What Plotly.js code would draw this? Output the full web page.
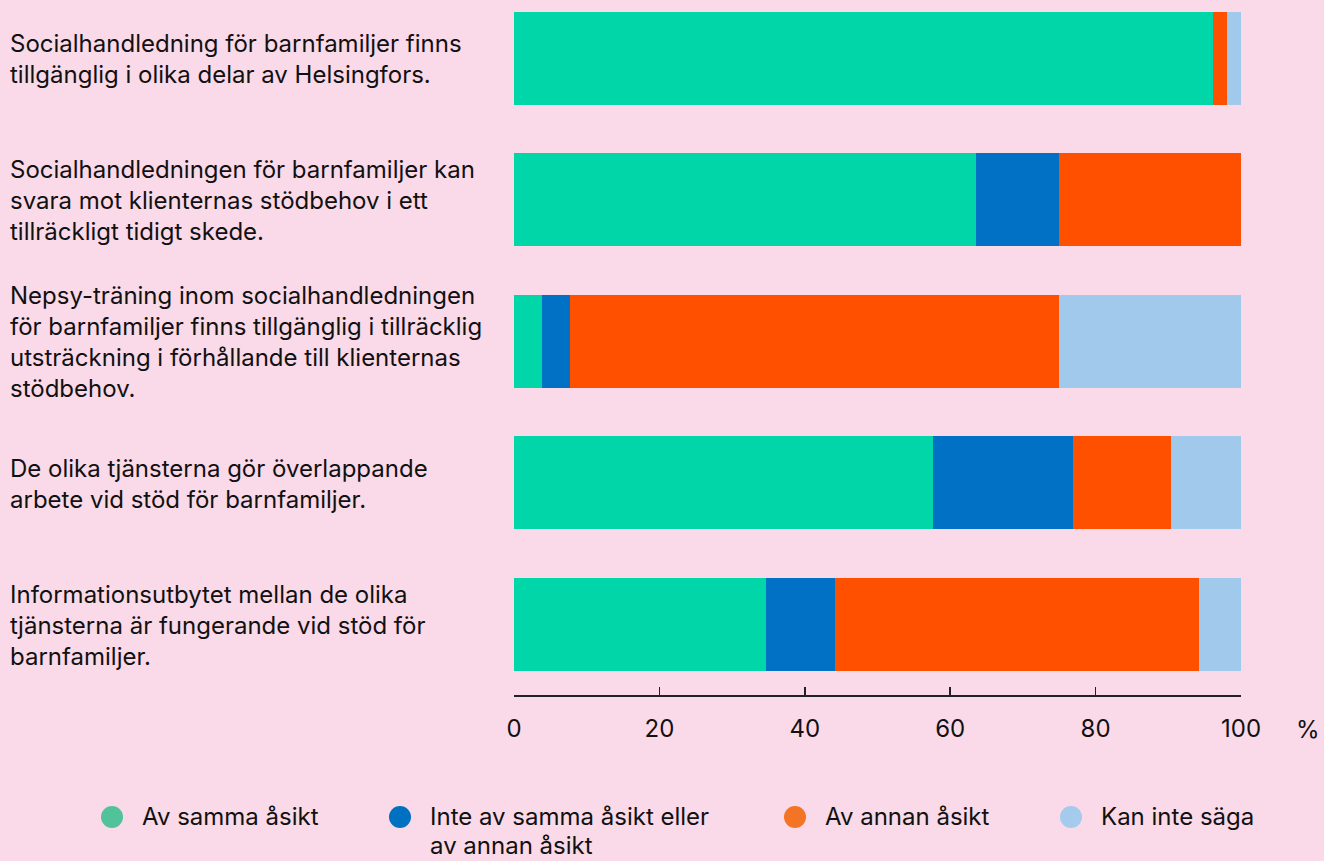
<!DOCTYPE html>
<html>
<head>
<meta charset="utf-8">
<script src="https://cdn.plot.ly/plotly-3.0.1.min.js"></script>
<style>
html,body{margin:0;padding:0;background:#fad9e8;}
#chart{width:1324px;height:861px;}
</style>
</head>
<body>
<div id="chart"></div>
<script>
// ---- data ----
const categories = [
  "Socialhandledning för barnfamiljer finns<br>tillgänglig i olika delar av Helsingfors.",
  "Socialhandledningen för barnfamiljer kan<br>svara mot klienternas stödbehov i ett<br>tillräckligt tidigt skede.",
  "Nepsy-träning inom socialhandledningen<br>för barnfamiljer finns tillgänglig i tillräcklig<br>utsträckning i förhållande till klienternas<br>stödbehov.",
  "De olika tjänsterna gör överlappande<br>arbete vid stöd för barnfamiljer.",
  "Informationsutbytet mellan de olika<br>tjänsterna är fungerande vid stöd för<br>barnfamiljer."
];
const seriesNames = ["Av samma åsikt", "Inte av samma åsikt eller<br>av annan åsikt", "Av annan åsikt", "Kan inte säga"];
const avSamma   = [96.2, 63.5, 3.85, 57.7, 34.6];
const inteAv    = [0.0, 11.5, 3.85, 19.2, 9.6];
const avAnnan   = [1.9, 25.0, 67.3, 13.5, 50.0];
const kanInte   = [1.9, 0.0, 25.0, 9.6, 5.8];
const xTicks = [0, 20, 40, 60, 80, 100];
const unitLabel = "%";

// ---- style ----
const barColors = ["#00d6a7", "#0071c5", "#ff5000", "#a0c9eb"];
const legendColors = ["#52c29b", "#0070c0", "#f47426", "#a4cbec"];
const FONT = "Inter, 'Noto Sans', sans-serif";
const textColor = "#111111";
const FS = 24;

const W = 1324, H = 861;
const mL = 514, mR = 83, mT = 0, mB = 166;
const plotW = W - mL - mR, plotH = H - mT - mB;
const px2x = p => (p - mL) / plotW;
const py2y = p => (H - mB - p) / plotH;

const values = [avSamma, inteAv, avAnnan, kanInte];
const yIdx = categories.map((c, i) => i);

const traces = values.map((v, k) => ({
  type: "bar",
  orientation: "h",
  x: v,
  y: yIdx,
  name: seriesNames[k],
  marker: {color: barColors[k], line: {width: 0}},
  width: 0.66,
  hoverinfo: "x+name",
  showlegend: false
}));

const annotations = [];
const lineH = 31;
categories.forEach((c, i) => {
  const lines = c.split("<br>");
  const n = lines.length;
  lines.forEach((ln, j) => {
    annotations.push({
      xref: "paper", yref: "y",
      x: px2x(8), y: i,
      xanchor: "left", yanchor: "middle",
      yshift: ((n - 1) / 2 - j) * lineH - 1,
      text: ln, showarrow: false, align: "left",
      font: {family: FONT, size: FS, color: textColor}
    });
  });
});
annotations.push({
  xref: "paper", yref: "paper",
  x: px2x(1308), y: py2y(729),
  xanchor: "center", yanchor: "middle",
  text: unitLabel, showarrow: false,
  font: {family: FONT, size: FS, color: textColor}
});

// legend (manual)
const legMarkerX = [112, 400, 795, 1071];
const legY = 816;
const shapes = [];
seriesNames.forEach((s, k) => {
  const r = 11;
  shapes.push({
    type: "circle", xref: "paper", yref: "paper",
    x0: px2x(legMarkerX[k] - r), x1: px2x(legMarkerX[k] + r),
    y0: py2y(legY + 1 + r), y1: py2y(legY + 1 - r),
    fillcolor: legendColors[k], line: {width: 0}
  });
  const lines = s.split("<br>");
  lines.forEach((ln, j) => {
    annotations.push({
      xref: "paper", yref: "paper",
      x: px2x(legMarkerX[k] + 28), y: py2y(legY + j * 29),
      xanchor: "left", yanchor: "middle",
      text: ln, showarrow: false, align: "left",
      font: {family: FONT, size: FS, color: textColor}
    });
  });
});

const layout = {
  width: W, height: H,
  margin: {l: mL, r: mR, t: mT, b: mB, pad: 0},
  paper_bgcolor: "#fad9e8",
  plot_bgcolor: "#fad9e8",
  barmode: "stack",
  showlegend: false,
  xaxis: {
    range: [0, 100],
    tickvals: xTicks,
    ticktext: xTicks.map(String),
    ticks: "inside",
    ticklen: 8,
    tickwidth: 1.5,
    tickcolor: "#222",
    showline: true,
    linecolor: "#222",
    linewidth: 1.5,
    showgrid: false,
    zeroline: false,
    ticklabelstandoff: 12,
    tickfont: {family: FONT, size: FS, color: textColor},
    fixedrange: true
  },
  yaxis: {
    type: "linear",
    range: [4.5, 4.5 - plotH / 141.5],
    showticklabels: false,
    showgrid: false,
    zeroline: false,
    showline: false,
    ticks: "",
    fixedrange: true
  },
  annotations: annotations,
  shapes: shapes
};

Plotly.newPlot("chart", traces, layout, {displayModeBar: false, staticPlot: true});
</script>
</body>
</html>
